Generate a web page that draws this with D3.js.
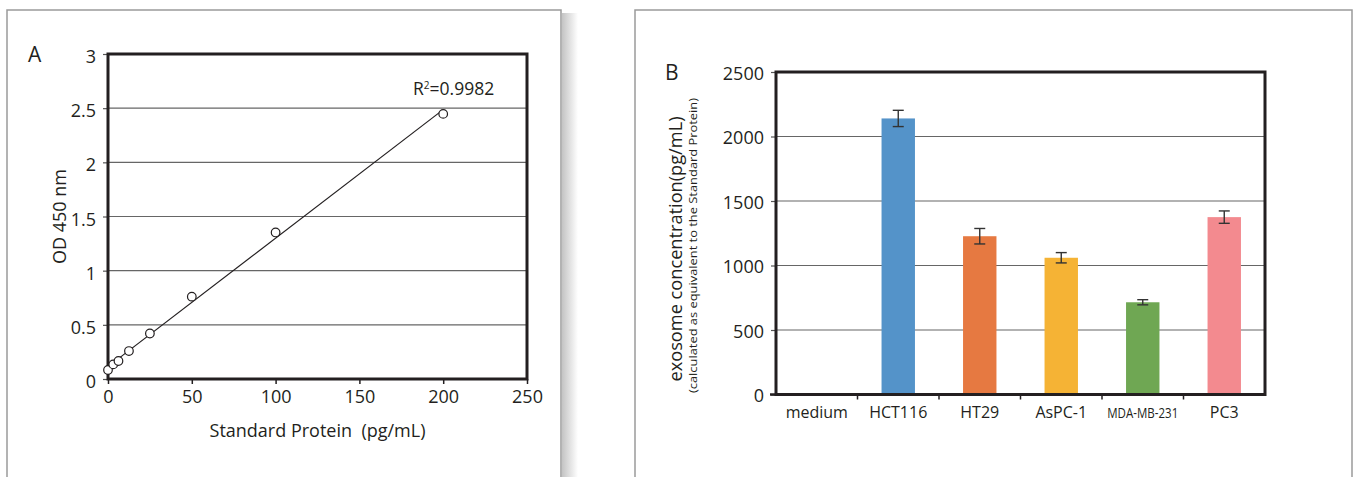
<!DOCTYPE html>
<html>
<head>
<meta charset="utf-8">
<script src="https://cdn.jsdelivr.net/npm/d3@7"></script>
<style>
  html, body { margin: 0; padding: 0; background: #fff; }
  svg { display: block; }
  text { font-family: "Open Sans", "Noto Sans", sans-serif; fill: #231f20; }
</style>
</head>
<body>
<svg id="chart" width="1354" height="477"></svg>
<script>
// ---------- Data: panel A (standard curve) ----------
const stdProtein = [0, 3.125, 6.25, 12.5, 25, 50, 100, 200];
const stdOD = [0.083, 0.135, 0.166, 0.258, 0.42, 0.76, 1.353, 2.447];
const xTicksA = [0, 50, 100, 150, 200, 250];
const yTicksA = [0, 0.5, 1, 1.5, 2, 2.5, 3];
const r2Label = "0.9982";

// ---------- Data: panel B (bar chart) ----------
const cellLines = ["medium", "HCT116", "HT29", "AsPC-1", "MDA-MB-231", "PC3"];
const exosomeConc = [0, 2140, 1227, 1060, 715, 1375];
const exosomeErr = [0, 63, 60, 40, 20, 48];
const barColors = ["#ffffff", "#5493c9", "#e67941", "#f5b335", "#6fa753", "#f38a8f"];
const yTicksB = [0, 500, 1000, 1500, 2000, 2500];

const svg = d3.select("#chart");
const dark = "#231f20";

// ---------- panel frames ----------
const defs = svg.append("defs");
const grad = defs.append("linearGradient").attr("id", "shadow").attr("x1", 0).attr("x2", 1);
grad.append("stop").attr("offset", "0%").attr("stop-color", "#c4c4c4");
grad.append("stop").attr("offset", "100%").attr("stop-color", "#ffffff");
svg.append("rect").attr("x", 562).attr("y", 13).attr("width", 16).attr("height", 470)
  .attr("fill", "url(#shadow)");
svg.append("rect").attr("x", 7).attr("y", 10).attr("width", 554).attr("height", 480)
  .attr("fill", "#fff").attr("stroke", "#9a9a9a").attr("stroke-width", 1.5);
svg.append("rect").attr("x", 635).attr("y", 10).attr("width", 717).attr("height", 480)
  .attr("fill", "#fff").attr("stroke", "#9a9a9a").attr("stroke-width", 1.5);

// ================= Panel A =================
const A = { l: 108, r: 527, t: 54, b: 379 };
const xA = d3.scaleLinear().domain([0, 250]).range([A.l, A.r]);
const yA = d3.scaleLinear().domain([0, 3]).range([A.b, A.t]);
const gA = svg.append("g");

// gridlines
gA.append("g").selectAll("line").data(yTicksA.filter(d => d > 0 && d < 3)).join("line")
  .attr("x1", A.l).attr("x2", A.r).attr("y1", d => yA(d)).attr("y2", d => yA(d))
  .attr("stroke", "#666").attr("stroke-width", 1.2);

// y axis ticks + labels
const yAxA = gA.append("g").attr("transform", `translate(${A.l},0)`)
  .call(d3.axisLeft(yA).tickValues(yTicksA).tickSize(5).tickPadding(7).tickFormat(d3.format("")));
yAxA.select(".domain").remove();
yAxA.selectAll(".tick line").attr("stroke", "#555").attr("stroke-width", 1.2);
yAxA.selectAll(".tick text").attr("font-size", 18).attr("dy", "0.48em")
  .style("font-family", "'Open Sans', sans-serif").attr("fill", dark);

// x axis ticks + labels
const xAxA = gA.append("g").attr("transform", `translate(0,${A.b})`)
  .call(d3.axisBottom(xA).tickValues(xTicksA).tickSize(5).tickPadding(6).tickFormat(d3.format("")));
xAxA.select(".domain").remove();
xAxA.selectAll(".tick line").attr("stroke", dark).attr("stroke-width", 1.5);
xAxA.selectAll(".tick text").attr("font-size", 18)
  .style("font-family", "'Open Sans', sans-serif").attr("fill", dark);

// frame
gA.append("rect").attr("x", A.l).attr("y", A.t).attr("width", A.r - A.l).attr("height", A.b - A.t)
  .attr("fill", "none").attr("stroke", dark).attr("stroke-width", 3);

// least-squares fit from the data
const mx = d3.mean(stdProtein), my = d3.mean(stdOD);
const sxy = d3.sum(stdProtein, (x, i) => (x - mx) * (stdOD[i] - my));
const sxx = d3.sum(stdProtein, x => (x - mx) * (x - mx));
const slope = sxy / sxx, intercept = my - slope * mx;
const fitX = [d3.min(stdProtein), d3.max(stdProtein)];
gA.append("path")
  .datum(fitX)
  .attr("d", d3.line().x(d => xA(d)).y(d => yA(intercept + slope * d)))
  .attr("stroke", dark).attr("stroke-width", 1.2).attr("fill", "none");

// points
gA.append("g").selectAll("circle").data(stdProtein).join("circle")
  .attr("cx", d => xA(d)).attr("cy", (d, i) => yA(stdOD[i])).attr("r", 4.3)
  .attr("fill", "#fff").attr("stroke", dark).attr("stroke-width", 1.2);

// R2 label
const r2 = gA.append("text").attr("x", 413).attr("y", 95).attr("font-size", 17.5);
r2.append("tspan").text("R");
r2.append("tspan").text("2").attr("font-size", 10).attr("dy", -6);
r2.append("tspan").text("=" + r2Label).attr("dy", 6);

// titles
gA.append("text").attr("x", (A.l + A.r) / 2).attr("y", 437).attr("text-anchor", "middle")
  .attr("font-size", 18).attr("xml:space", "preserve").text("Standard Protein  (pg/mL)");
gA.append("text").attr("transform", `translate(66,${(A.t + A.b) / 2}) rotate(-90)`)
  .attr("text-anchor", "middle").attr("font-size", 18).text("OD 450 nm");
gA.append("text").attr("x", 28).attr("y", 62).attr("font-size", 21).text("A");

// ================= Panel B =================
const B = { l: 776, r: 1265, t: 72, b: 394.5 };
const xB = d3.scaleBand().domain(cellLines).range([B.l, B.r]).paddingInner(0.59).paddingOuter(0.295);
const xBand = d3.scaleBand().domain(cellLines).range([B.l, B.r]);
const yB = d3.scaleLinear().domain([0, 2500]).range([B.b, B.t]);
const gB = svg.append("g");

gB.append("g").selectAll("line").data(yTicksB.filter(d => d > 0 && d < 2500)).join("line")
  .attr("x1", B.l).attr("x2", B.r).attr("y1", d => yB(d)).attr("y2", d => yB(d))
  .attr("stroke", "#666").attr("stroke-width", 1.2);

const yAxB = gB.append("g").attr("transform", `translate(${B.l},0)`)
  .call(d3.axisLeft(yB).tickValues(yTicksB).tickSize(5).tickPadding(7).tickFormat(d3.format("d")));
yAxB.select(".domain").remove();
yAxB.selectAll(".tick line").attr("stroke", "#555").attr("stroke-width", 1.2);
yAxB.selectAll(".tick text").attr("font-size", 18).attr("dy", "0.4em")
  .style("font-family", "'Open Sans', sans-serif").attr("fill", dark);

// bars
gB.append("g").selectAll("rect").data(cellLines).join("rect")
  .attr("x", d => xB(d)).attr("width", xB.bandwidth())
  .attr("y", (d, i) => yB(exosomeConc[i]))
  .attr("height", (d, i) => yB(0) - yB(exosomeConc[i]))
  .attr("fill", (d, i) => barColors[i]);

// error bars
const eb = gB.append("g").selectAll("g").data(cellLines.filter((d, i) => exosomeErr[i] > 0)).join("g");
eb.append("line")
  .attr("x1", d => xB(d) + xB.bandwidth() / 2).attr("x2", d => xB(d) + xB.bandwidth() / 2)
  .attr("y1", d => yB(exosomeConc[cellLines.indexOf(d)] + exosomeErr[cellLines.indexOf(d)]))
  .attr("y2", d => yB(exosomeConc[cellLines.indexOf(d)] - exosomeErr[cellLines.indexOf(d)]))
  .attr("stroke", "#333").attr("stroke-width", 1.4);
[1, -1].forEach(s => {
  eb.append("line")
    .attr("x1", d => xB(d) + xB.bandwidth() / 2 - 5.5).attr("x2", d => xB(d) + xB.bandwidth() / 2 + 5.5)
    .attr("y1", d => yB(exosomeConc[cellLines.indexOf(d)] + s * exosomeErr[cellLines.indexOf(d)]))
    .attr("y2", d => yB(exosomeConc[cellLines.indexOf(d)] + s * exosomeErr[cellLines.indexOf(d)]))
    .attr("stroke", "#333").attr("stroke-width", 1.4);
});

// category boundary ticks
gB.append("g").selectAll("line").data(cellLines.slice(1)).join("line")
  .attr("x1", d => xBand(d)).attr("x2", d => xBand(d))
  .attr("y1", B.b).attr("y2", B.b + 5)
  .attr("stroke", dark).attr("stroke-width", 1.5);
gB.append("line").attr("x1", B.l - 6).attr("x2", B.l).attr("y1", B.b).attr("y2", B.b)
  .attr("stroke", dark).attr("stroke-width", 2.5);

// category labels
gB.append("g").selectAll("text").data(cellLines).join("text")
  .attr("x", d => xBand(d) + xBand.bandwidth() / 2).attr("y", 418)
  .attr("text-anchor", "middle")
  .attr("font-size", d => d === "MDA-MB-231" ? 14 : 16)
  .each(function (d) {
    if (d === "MDA-MB-231") d3.select(this).attr("textLength", 71).attr("lengthAdjust", "spacingAndGlyphs");
  })
  .text(d => d);

// frame
gB.append("rect").attr("x", B.l).attr("y", B.t).attr("width", B.r - B.l).attr("height", B.b - B.t)
  .attr("fill", "none").attr("stroke", dark).attr("stroke-width", 3);

// titles
gB.append("text").attr("transform", `translate(682,249) rotate(-90)`)
  .attr("text-anchor", "middle").attr("font-size", 18)
  .attr("textLength", 265).attr("lengthAdjust", "spacingAndGlyphs")
  .text("exosome concentration(pg/mL)");
gB.append("text").attr("transform", `translate(697,245.5) rotate(-90)`)
  .attr("text-anchor", "middle").attr("font-size", 11.5)
  .attr("textLength", 295).attr("lengthAdjust", "spacingAndGlyphs")
  .text("(calculated as equivalent to the Standard Protein)");
gB.append("text").attr("x", 665).attr("y", 80).attr("font-size", 21).text("B");
</script>
</body>
</html>
